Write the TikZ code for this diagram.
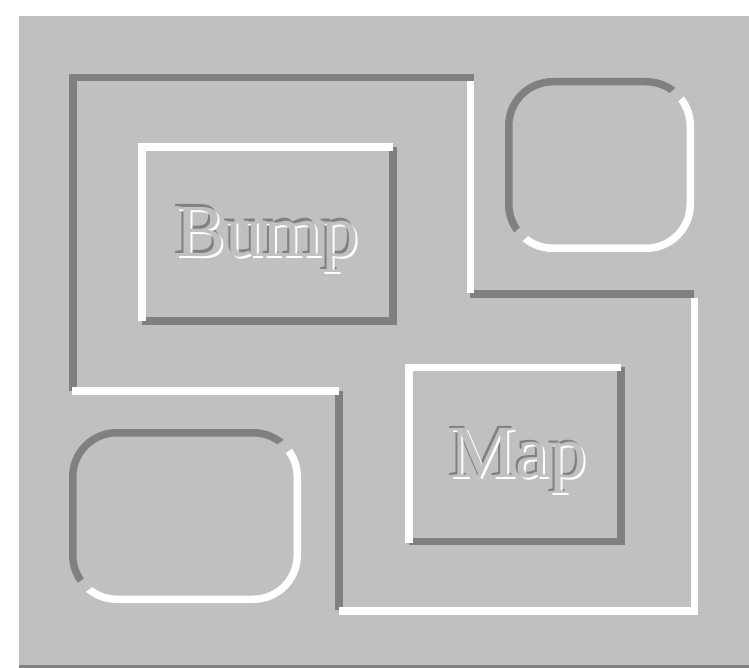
\documentclass[tikz,border=0pt]{standalone}
\usepackage{fontspec}
\setmainfont{Liberation Serif}
\definecolor{face}{HTML}{C0C0C0}
\definecolor{rimdark}{HTML}{808080}
\newcommand{\embossed}[1]{\rlap{\kern-2pt\raisebox{2pt}{\textcolor{rimdark}{#1}}}\rlap{\kern2pt\raisebox{-2pt}{\textcolor{white}{#1}}}\textcolor{face}{#1}}
\begin{document}
\begin{tikzpicture}[x=1pt,y=-1pt,
  hi/.style={fill=white},
  lo/.style={fill=rimdark},
  rim/.style={line width=7.5pt, rounded corners=44pt},
  embtext/.style={font=\fontsize{75}{80}\selectfont, inner sep=0pt, anchor=base}]
\useasboundingbox (0,0) rectangle (749,668);
\fill[white] (0,0) rectangle (749,668);
\fill[face] (19,16) rectangle (749,668);
\fill[rimdark] (19,665) rectangle (749,668);

% outer sunken frame
\fill[lo] (69,74) rectangle (474,81);
\fill[lo] (69,74) rectangle (77,391);
\fill[lo] (470,290) rectangle (694,298);
\fill[hi] (467,81) rectangle (474,293);
\fill[hi] (691,298) rectangle (698,615);
\fill[lo] (335,391) rectangle (343,610);
\fill[hi] (339,607) rectangle (698,615);
\fill[hi] (72,387) rectangle (339,395);

% raised box "Bump"
\fill[lo] (389,147) rectangle (397,325);
\fill[lo] (142,317) rectangle (397,325);
\fill[hi] (138,143) rectangle (393,151);
\fill[hi] (138,143) rectangle (146,321);

% raised box "Map"
\fill[lo] (617,367) rectangle (625,545);
\fill[lo] (409,538) rectangle (625,545);
\fill[hi] (405,364) rectangle (621,371);
\fill[hi] (405,364) rectangle (413,543);

% sunken rounded box, top right
\begin{scope}
  \clip (230,487.5) -- (814,-36.5) -- (230,-36.5) -- cycle;
  \draw[rim, draw=rimdark] (508.75,81.75) rectangle (690.25,248.25);
\end{scope}
\begin{scope}
  \clip (238,496.5) -- (822,-27.5) -- (822,496.5) -- cycle;
  \draw[rim, draw=white] (508.75,81.75) rectangle (690.25,248.25);
\end{scope}

% sunken rounded box, bottom left
\begin{scope}
  \clip (-292.4,839.6) -- (465.6,313.6) -- (-292.4,313.6) -- cycle;
  \draw[rim, draw=rimdark] (72.75,432.75) rectangle (297.25,599.25);
\end{scope}
\begin{scope}
  \clip (-285.6,849.4) -- (472.6,323.4) -- (472.6,849.4) -- cycle;
  \draw[rim, draw=white] (72.75,432.75) rectangle (297.25,599.25);
\end{scope}

% embossed labels
\node[embtext] (bump) at (267.5,256) {\embossed{Bump}};
\node[embtext] (map) at (518,477) {\embossed{Map}};
\end{tikzpicture}
\end{document}
